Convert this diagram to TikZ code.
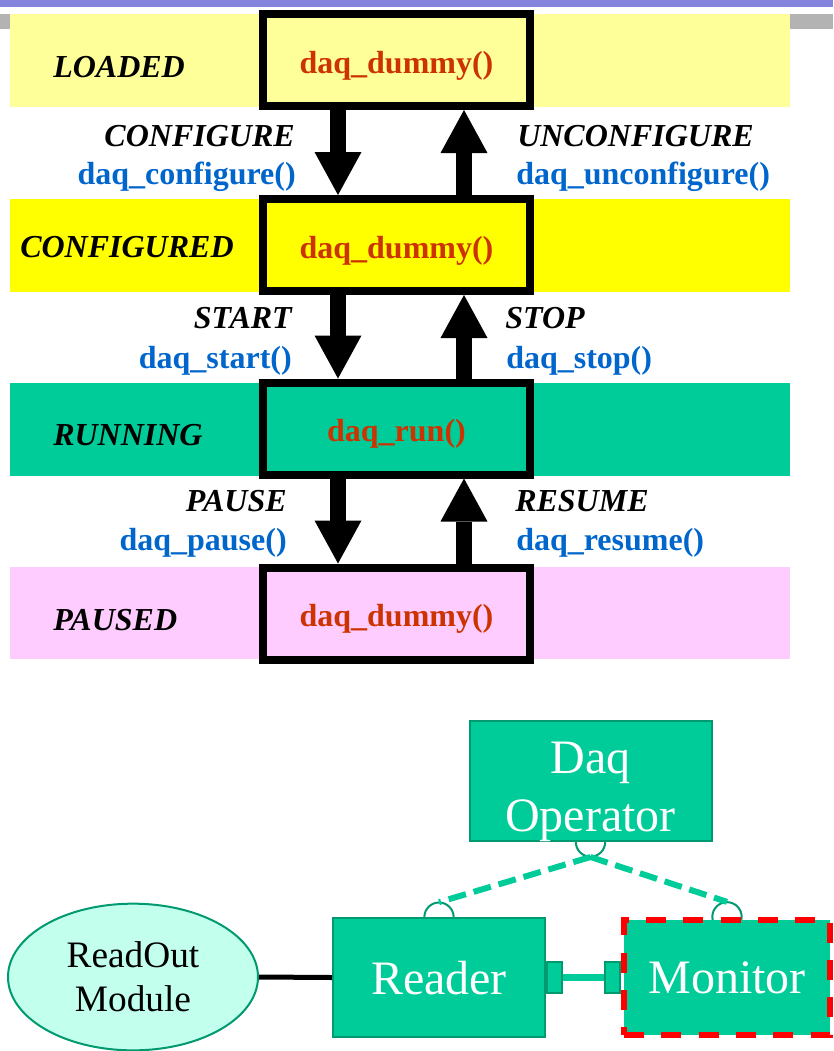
\documentclass[tikz,border=0pt]{standalone}
\usepackage{fontspec}
\setmainfont{Liberation Serif}
\usetikzlibrary{arrows.meta,calc,shapes.geometric,backgrounds}

\definecolor{topbar}{RGB}{132,132,220}
\definecolor{greybar}{RGB}{179,179,179}
\definecolor{loaded}{RGB}{255,255,153}
\definecolor{configured}{RGB}{255,255,0}
\definecolor{running}{RGB}{0,204,153}
\definecolor{paused}{RGB}{255,204,255}
\definecolor{funcred}{RGB}{204,51,0}
\definecolor{funcblue}{RGB}{0,102,204}
\definecolor{compfill}{RGB}{0,204,153}
\definecolor{compline}{RGB}{0,153,112}
\definecolor{mint}{RGB}{194,255,236}

\begin{document}
\begin{tikzpicture}[x=0.75pt,y=-0.75pt,
  statebox/.style={draw=black, line width=6pt, inner sep=0pt,
    minimum width=200.25pt, minimum height=69pt,
    text height=19.5pt, text depth=0pt,
    font=\fontsize{24}{28}\selectfont\bfseries, text=funcred},
  statename/.style={inner sep=0pt, anchor=base west,
    font=\fontsize{24}{28}\selectfont\bfseries\itshape},
  evname/.style={inner sep=0pt, font=\fontsize{24}{28}\selectfont\bfseries\itshape},
  evfunc/.style={inner sep=0pt, text=funcblue, font=\fontsize{24}{28}\selectfont\bfseries},
  trans/.style={line width=12pt,
    -{Triangle[width=35.25pt,length=32.25pt,line width=0pt]}},
  comp/.style={draw=compline, fill=compfill, line width=1.5pt, inner sep=0pt,
    text=white, align=center, text depth=0pt,
    font=\fontsize{36}{43.5}\selectfont},
  port/.style={draw=compline, fill=compfill, line width=1.5pt, inner sep=0pt,
    minimum width=11.25pt, minimum height=23.25pt},
  socket/.style={draw=compline, line width=1.5pt},
  ctrl/.style={draw=compfill, line width=4.5pt, dash pattern=on 13.5pt off 6pt}]

\useasboundingbox (0,0) rectangle (833,1051);

% slide decoration
\fill[topbar] (0,0) rectangle (833,7);
\fill[greybar] (0,14) rectangle (833,29);

% state bands
\fill[loaded] (10,14) rectangle (790,107);
\fill[configured] (10,199) rectangle (790,292);
\fill[running] (10,383) rectangle (790,476);
\fill[paused] (10,567) rectangle (790,659);

% state boxes with the function run in each state
\node[statebox, fill=loaded] (sL) at (396.5,60) {daq\_dummy()};
\node[statebox, fill=configured] (sC) at (396.5,245) {daq\_dummy()};
\node[statebox, fill=running] (sR) at (396.5,428.5) {daq\_run()};
\node[statebox, fill=paused] (sP) at (396.5,613.5) {daq\_dummy()};

% state names
\node[statename] (nL) at (53,77) {LOADED};
\node[statename] (nC) at (20,257) {CONFIGURED};
\node[statename] (nR) at (53,445) {RUNNING};
\node[statename] (nP) at (53,630) {PAUSED};

% transitions
\draw[trans] ($(sL.south)+(-58.5,0)$) -- ($(sC.north)+(-58.5,0)$);
\draw[trans] ($(sC.north)+(67.5,0)$) -- ($(sL.south)+(67.5,0)$);
\draw[trans] ($(sC.south)+(-58.5,0)$) -- ($(sR.north)+(-58.5,0)$);
\draw[trans] ($(sR.north)+(67.5,0)$) -- ($(sC.south)+(67.5,0)$);
\draw[trans] ($(sR.south)+(-58.5,0)$) -- ($(sP.north)+(-58.5,0)$);
\draw[trans] ($(sP.north)+(67.5,0)$) -- ($(sR.south)+(67.5,0)$);

% transition labels
\node[evname, anchor=base east] (tCfg) at (295,146) {CONFIGURE};
\node[evfunc, anchor=base east] (fCfg) at (296,184) {daq\_configure()};
\node[evname, anchor=base west] (tUnc) at (517,146) {UNCONFIGURE};
\node[evfunc, anchor=base west] (fUnc) at (516,184) {daq\_unconfigure()};
\node[evname, anchor=base east] (tSta) at (292,328) {START};
\node[evfunc, anchor=base east] (fSta) at (292,368) {daq\_start()};
\node[evname, anchor=base west] (tSto) at (505,328) {STOP};
\node[evfunc, anchor=base west] (fSto) at (506,368) {daq\_stop()};
\node[evname, anchor=base east] (tPau) at (287,511) {PAUSE};
\node[evfunc, anchor=base east] (fPau) at (287,550) {daq\_pause()};
\node[evname, anchor=base west] (tRes) at (515,511) {RESUME};
\node[evfunc, anchor=base west] (fRes) at (516,550) {daq\_resume()};

% component diagram
\node[comp, minimum width=181.5pt, minimum height=90pt, text height=76pt] (op) at (590.5,781) {Daq\\Operator};
\node[comp, minimum width=159pt, minimum height=89pt] (reader) at (439,977.5) {Reader};
\node[draw=compline, fill=mint, line width=1.5pt, ellipse, inner sep=0pt,
  minimum width=187.5pt, minimum height=110pt, align=center, text depth=0pt,
  font=\fontsize{28}{33}\selectfont] (rom) at (133,977) {ReadOut\\Module};
\node[comp, draw=red, line width=4.5pt, dash pattern=on 15pt off 13pt,
  minimum width=154.5pt, minimum height=86.5pt] (mon) at (727,977.5) {Monitor};

\node[port, anchor=west] (rport) at (reader.east) {};
\node[port, anchor=east] (mport) at (mon.west) {};

% sockets of the control interface
\begin{scope}[on background layer]
  \draw[socket] (op.south) circle[radius=11pt];
  \draw[socket] (reader.north) circle[radius=11pt];
  \draw[socket] (mon.north) circle[radius=11pt];
\end{scope}

\coordinate (opS) at ($(op.south)+(0,15)$);
\coordinate (rdS) at ($(reader.north)+(0,-15)$);
\coordinate (mnS) at ($(mon.north)+(0,-15)$);
\draw[ctrl] (opS) -- (rdS);
\draw[ctrl] (opS) -- (mnS);

% data paths
\draw[black, line width=3.75pt] (rom.east) -- (reader.west);
\draw[compfill, line width=5.25pt] (rport.east) -- (mport.west);

\end{tikzpicture}
\end{document}
